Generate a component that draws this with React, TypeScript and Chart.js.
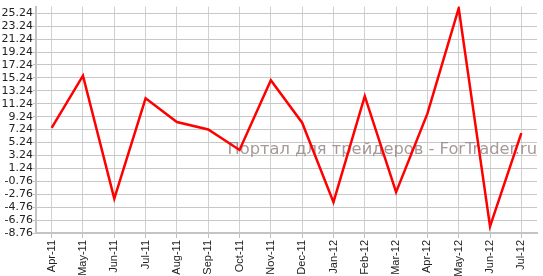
import React, { useEffect, useRef } from "react";
import { Chart, registerables } from "chart.js";

Chart.register(...registerables);

const categories = [
  "Apr-11", "May-11", "Jun-11", "Jul-11", "Aug-11", "Sep-11", "Oct-11", "Nov-11",
  "Dec-11", "Jan-12", "Feb-12", "Mar-12", "Apr-12", "May-12", "Jun-12", "Jul-12",
];
const values = [
  7.5, 15.58, -3.43, 12.07, 8.41, 7.26, 4.09, 14.87,
  8.31, -3.99, 12.42, -2.44, 9.71, 26.02, -7.75, 6.7,
];
const yTicks = [
  -8.76, -6.76, -4.76, -2.76, -0.76, 1.24, 3.24, 5.24, 7.24,
  9.24, 11.24, 13.24, 15.24, 17.24, 19.24, 21.24, 23.24, 25.24,
];
const yMin = -8.76;
const yMax = 26.27;
const watermark = "Портал для трейдеров - ForTrader.ru";

const watermarkPlugin = {
  id: "watermark",
  beforeDatasetsDraw(chart: any) {
    const { ctx, chartArea } = chart;
    ctx.save();
    ctx.font = '16.3px "DejaVu Sans"';
    ctx.fillStyle = "rgba(150,135,135,0.85)";
    ctx.textAlign = "right";
    ctx.textBaseline = "alphabetic";
    ctx.fillText(watermark, chartArea.right, 154);
    ctx.restore();
  },
};

export default function App() {
  const ref = useRef<HTMLCanvasElement>(null);
  useEffect(() => {
    if (!ref.current) return;
    const chart = new Chart(ref.current, {
      type: "line",
      data: {
        labels: categories,
        datasets: [
          {
            data: values,
            borderColor: "#ff0000",
            borderWidth: 2.5,
            pointRadius: 0,
            tension: 0,
            fill: false,
          },
        ],
      },
      options: {
        animation: false,
        responsive: false,
        layout: { padding: { top: 0, right: 6, left: 0, bottom: 0 } },
        plugins: { legend: { display: false }, tooltip: { enabled: false } },
        scales: {
          x: {
            offset: true,
            grid: {
              offset: false,
              color: "#d0d0d0",
              tickColor: "#c0c0c0",
              tickLength: 5,
              lineWidth: 1,
            },
            border: { color: "#c4c4c4", width: 2 },
            ticks: {
              minRotation: 90,
              maxRotation: 90,
              autoSkip: false,
              padding: 2,
              color: "#222",
              font: { family: "Liberation Sans", size: 11 },
            },
            afterFit(scale: any) {
              scale.height = 43;
            },
          },
          y: {
            min: yMin,
            max: yMax,
            afterBuildTicks(scale: any) {
              scale.ticks = yTicks.map((v) => ({ value: v }));
            },
            grid: {
              color: "#c8c8c8",
              tickColor: "#c0c0c0",
              tickLength: 3,
              lineWidth: 1,
            },
            border: { color: "#c4c4c4", width: 2 },
            ticks: {
              autoSkip: false,
              padding: 0,
              color: "#222",
              font: { family: "DejaVu Sans", size: 11 },
              callback: (v: any) => Number(v).toFixed(2),
            },
            afterFit(scale: any) {
              scale.width = 36;
            },
          },
        },
      },
      plugins: [watermarkPlugin],
    });
    return () => chart.destroy();
  }, []);
  return (
    <div style={{ position: "fixed", left: 0, top: 0, width: 543, height: 276, background: "#fff" }}>
      <canvas ref={ref} width={543} height={276} />
    </div>
  );
}
